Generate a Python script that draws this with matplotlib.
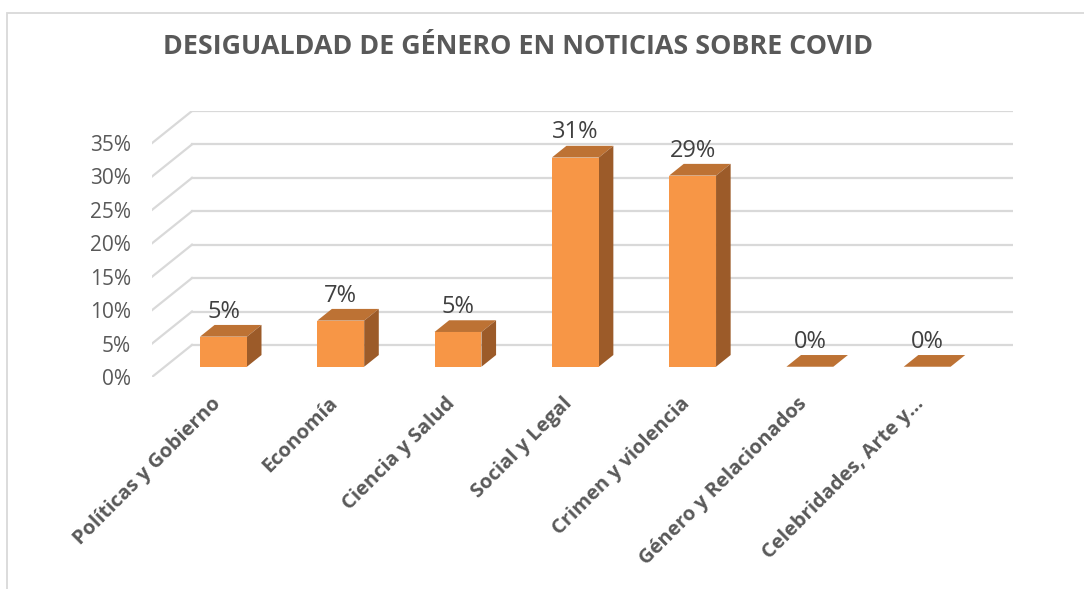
import matplotlib
matplotlib.use("Agg")
import matplotlib.pyplot as plt
from matplotlib.patches import Polygon, Rectangle

# data (percent)
categories = ["Políticas y Gobierno", "Economía", "Ciencia y Salud", "Social y Legal",
              "Crimen y violencia", "Género y Relacionados", "Celebridades, Arte y…"]
values = [4.5, 6.9, 5.2, 31.3, 28.6, 0.0, 0.0]
value_labels = ["5%", "7%", "5%", "31%", "29%", "0%", "0%"]
yticks = [0, 5, 10, 15, 20, 25, 30, 35]

# fake 3d geometry (data units)
DX = 0.341      # depth offset in category units
DY = 4.8        # depth offset in percent units
F0, F1 = 0.32, 0.685   # front / back of the bars as fraction of the depth
BAR_W = 0.40

FRONT = "#F79646"
TOP = "#BD7234"
SIDE = "#9C5B29"
GRID = "#D9D9D9"
TEXT = "#595959"

plt.rcParams["font.family"] = ["Open Sans", "DejaVu Sans"]

W, H = 1084, 589
fig = plt.figure(figsize=(W / 100, H / 100), dpi=100)

# chart border
fig.add_artist(Rectangle((6.5 / W, -0.01), 1.1, (H - 12.5) / H + 0.01,
                         transform=fig.transFigure, fill=False, ec=GRID, lw=1.3))

ax = fig.add_axes([152 / W, 212 / H, 861 / W, 266 / H])
ax.set_xlim(-0.5, 6.5 + DX)
ax.set_ylim(0, 35 + DY)
for s in ax.spines.values():
    s.set_visible(False)

# back wall gridlines + side wall diagonals
for t in yticks:
    ax.plot([-0.5 + DX, 6.5 + DX], [t + DY, t + DY], color=GRID, lw=1.6, zorder=1)
    ax.plot([-0.5, -0.5 + DX], [t, t + DY], color=GRID, lw=1.6, zorder=1)

# bars
for i, v in enumerate(values):
    x0 = i + F0 * DX - BAR_W / 2
    y0 = F0 * DY
    x1 = x0 + BAR_W
    ddx = (F1 - F0) * DX
    ddy = (F1 - F0) * DY
    top = [(x0, y0 + v), (x1, y0 + v), (x1 + ddx, y0 + v + ddy), (x0 + ddx, y0 + v + ddy)]
    ax.add_patch(Polygon(top, closed=True, fc=TOP, ec="none", zorder=3))
    if v > 0:
        ax.add_patch(Polygon([(x0, y0), (x1, y0), (x1, y0 + v), (x0, y0 + v)],
                             closed=True, fc=FRONT, ec="none", zorder=4))
        side = [(x1, y0), (x1 + ddx, y0 + ddy), (x1 + ddx, y0 + v + ddy), (x1, y0 + v)]
        ax.add_patch(Polygon(side, closed=True, fc=SIDE, ec="none", zorder=3))
    ax.text(i + F0 * DX, y0 + v + ddy + 1.1, value_labels[i], ha="center", va="baseline",
            fontsize=17, color="#404040", zorder=5)

# axis labels
ax.set_yticks(yticks)
ax.set_yticklabels([f"{t}%" for t in yticks], fontsize=15, color=TEXT)
ax.tick_params(axis="y", length=0, pad=15)
ax.set_xticks(range(len(categories)))
ax.set_xticklabels(categories, rotation=45, ha="right", rotation_mode="anchor",
                   fontsize=14.5, fontweight="bold", color=TEXT)
ax.tick_params(axis="x", length=0, pad=12)

fig.text(518 / W, 1 - 47 / H, "DESIGUALDAD DE GÉNERO EN NOTICIAS SOBRE COVID",
         ha="center", va="center", fontsize=19.4, fontweight="bold", color=TEXT)

fig.savefig("out.png", dpi=100)
